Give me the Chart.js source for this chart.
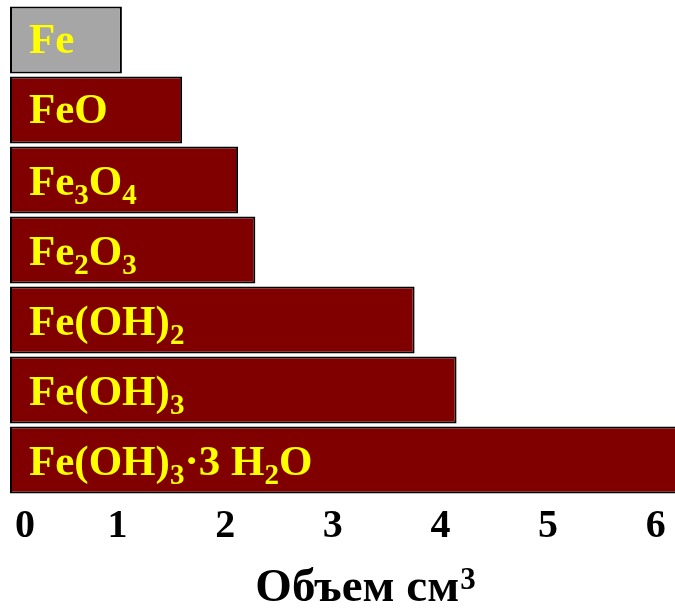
<!DOCTYPE html>
<html>
<head>
<meta charset="utf-8">
<script src="https://cdn.jsdelivr.net/npm/chart.js@4/dist/chart.umd.min.js"></script>
<style>
  html, body { margin: 0; padding: 0; background: #fff; }
  #wrap { width: 675px; height: 612px; }
</style>
</head>
<body>
<div id="wrap"><canvas id="c" width="675" height="612"></canvas></div>
<script>
// Relative volume of iron and its corrosion products
const compounds = ['Fe', 'FeO', 'Fe3O4', 'Fe2O3', 'Fe(OH)2', 'Fe(OH)3', 'Fe(OH)3·3 H2O'];
// Label pieces: [text, isSubscript]
const compoundLabels = [
  [['Fe', false]],
  [['FeO', false]],
  [['Fe', false], ['3', true], ['O', false], ['4', true]],
  [['Fe', false], ['2', true], ['O', false], ['3', true]],
  [['Fe(OH)', false], ['2', true]],
  [['Fe(OH)', false], ['3', true]],
  [['Fe(OH)', false], ['3', true], ['·3 H', false], ['2', true], ['O', false]]
];
const volumes = [1.04, 1.6, 2.12, 2.28, 3.76, 4.15, 6.4];
const barColors = ['#a6a6a6', '#800000', '#800000', '#800000', '#800000', '#800000', '#800000'];
const axisTicks = [0, 1, 2, 3, 4, 5, 6];
const axisTitle = 'Объем см';
const axisTitleSup = '3';

const SERIF = '"Liberation Serif", "Times New Roman", serif';

const barLabelPlugin = {
  id: 'barLabels',
  afterDatasetsDraw(chart) {
    const ctx = chart.ctx;
    const meta = chart.getDatasetMeta(0);
    ctx.save();
    ctx.fillStyle = '#ffff00';
    ctx.textBaseline = 'alphabetic';
    ctx.textAlign = 'left';
    meta.data.forEach((bar, i) => {
      let x = bar.base + 19;
      const hasSub = compoundLabels[i].some(p => p[1]);
      const y = bar.y + (hasSub ? 15 : 13);
      compoundLabels[i].forEach(([txt, sub]) => {
        ctx.font = sub ? 'bold 29px ' + SERIF : 'bold 43px ' + SERIF;
        ctx.fillText(txt, x, sub ? y + 9 : y);
        x += ctx.measureText(txt).width;
      });
    });
    ctx.restore();
  }
};

const axisTitlePlugin = {
  id: 'axisTitle',
  afterDraw(chart) {
    const ctx = chart.ctx;
    ctx.save();
    ctx.fillStyle = '#000';
    ctx.textBaseline = 'alphabetic';
    ctx.textAlign = 'left';
    ctx.font = 'bold 47px ' + SERIF;
    const w1 = ctx.measureText(axisTitle).width;
    ctx.font = 'bold 31px ' + SERIF;
    const w2 = ctx.measureText(axisTitleSup).width;
    const x0 = 365 - (w1 + w2) / 2;
    const y = 601;
    ctx.font = 'bold 47px ' + SERIF;
    ctx.fillText(axisTitle, x0, y);
    ctx.font = 'bold 31px ' + SERIF;
    ctx.fillText(axisTitleSup, x0 + w1 + 1, y - 12);
    ctx.restore();
  }
};

new Chart(document.getElementById('c'), {
  type: 'bar',
  data: {
    labels: compounds,
    datasets: [{
      data: volumes,
      backgroundColor: barColors,
      borderColor: '#000',
      borderWidth: 2,
      borderSkipped: false,
      barPercentage: 1.0,
      categoryPercentage: 0.96
    }]
  },
  options: {
    indexAxis: 'y',
    responsive: false,
    animation: false,
    devicePixelRatio: 1,
    layout: { padding: { left: 10, top: 5, right: 0, bottom: 0 } },
    plugins: { legend: { display: false }, tooltip: { enabled: false } },
    scales: {
      y: { display: false },
      x: {
        min: 0,
        max: 6.18,
        afterBuildTicks(scale) {
          scale.ticks = axisTicks.map(v => ({ value: v }));
        },
        afterFit(scale) {
          scale.height = 117;
          scale.paddingLeft = 0;
          scale.paddingRight = 0;
        },
        grid: { display: false, drawTicks: false },
        border: { display: false },
        ticks: {
          padding: 8,
          color: '#000',
          maxRotation: 0,
          autoSkip: false,
          font: { family: SERIF, size: 40, weight: 'bold' },
          // the zero label sits a little right of the origin
          callback: v => (v === 0 ? '\u2002 0' : String(v))
        }
      }
    }
  },
  plugins: [barLabelPlugin, axisTitlePlugin]
});
</script>
</body>
</html>
